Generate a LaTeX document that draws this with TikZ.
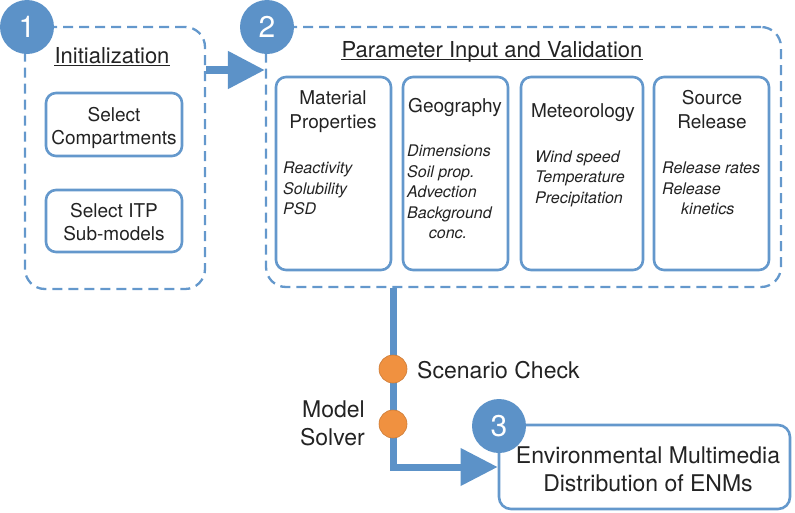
\documentclass[tikz,border=0pt]{standalone}
\usepackage{fontspec}
\setmainfont{TeX Gyre Heros}
\usetikzlibrary{arrows.meta}
\definecolor{lblue}{RGB}{100,152,204}
\definecolor{cblue}{RGB}{92,146,200}
\definecolor{dorange}{RGB}{240,145,64}
\definecolor{txt}{RGB}{35,35,35}
\begin{document}
\begin{tikzpicture}[x=1pt,y=-1pt,
  dashbox/.style={draw=lblue,line width=2.3pt,dash pattern=on 10pt off 6pt,rounded corners=20pt,inner sep=0pt},
  solidbox/.style={draw=lblue,line width=2.6pt,rounded corners=10pt,fill=white,inner sep=0pt},
  numcirc/.style={circle,fill=cblue,text=white,minimum size=54pt,inner sep=0pt,font=\fontsize{30}{30}\selectfont},
  dotc/.style={circle,fill=dorange,draw=dorange!85!black,line width=0.6pt,minimum size=28pt,inner sep=0pt},
  ttl/.style={inner sep=0pt,anchor=base,text=txt,font=\fontsize{22}{26}\selectfont},
  head/.style={inner sep=0pt,anchor=base,text=txt,font=\fontsize{19}{23}\selectfont},
  item/.style={inner sep=0pt,anchor=base west,text=txt,font=\fontsize{16}{20}\selectfont\itshape},
  lbl/.style={inner sep=0pt,text=txt,font=\fontsize{23}{28}\selectfont},
  flow/.style={draw=cblue,line width=8pt,-{Triangle[length=37pt,width=36pt]}},
  uline/.style={draw=txt,line width=0.8pt}
]
\useasboundingbox (0,0) rectangle (795,512);

% ---- Box 1 ----
\node[dashbox,minimum width=180pt,minimum height=262pt] (box1) at (115,158) {};
\node[ttl] (init) at (112,63) {Initialization};
\draw[uline] ([yshift=-2.5pt]init.base west) -- ([yshift=-2.5pt]init.base east);
\node[solidbox,minimum width=136pt,minimum height=63pt] (selc) at (114,124.5) {};
\node[head] at (114,121) {Select};
\node[head] at (114,144) {Compartments};
\node[solidbox,minimum width=136pt,minimum height=62pt] (seli) at (114,221) {};
\node[head] at (114,217) {Select ITP};
\node[head] at (114,240) {Sub-models};
\node[numcirc] (n1) at (27,27) {1};

% ---- Box 2 ----
\node[dashbox,minimum width=515pt,minimum height=260pt] (box2) at (523.5,157) {};
\node[ttl] (par) at (492,57) {Parameter Input and Validation};
\draw[uline] ([yshift=-2.5pt]par.base west) -- ([yshift=-2.5pt]par.base east);

\node[solidbox,minimum width=115pt,minimum height=193pt] (mat) at (333.5,173.5) {};
\node[head] at (333,104) {Material};
\node[head] at (333,128) {Properties};
\node[item] at (283,173) {Reactivity};
\node[item] at (283,194) {Solubility};
\node[item] at (283,214) {PSD};

\node[solidbox,minimum width=105pt,minimum height=193pt] (geo) at (455.5,173.5) {};
\node[head] at (455,112) {Geography};
\node[item] at (407,156) {Dimensions};
\node[item] at (407,177) {Soil prop.};
\node[item] at (407,197) {Advection};
\node[item] at (407,218) {Background};
\node[item,anchor=base] at (448,238) {conc.};

\node[solidbox,minimum width=122pt,minimum height=193pt] (met) at (582,173.5) {};
\node[head] at (583,117) {Meteorology};
\node[item] at (535,162) {Wind speed};
\node[item] at (535,182) {Temperature};
\node[item] at (535,203) {Precipitation};

\node[solidbox,minimum width=115pt,minimum height=193pt] (src) at (711.5,173.5) {};
\node[head] at (712,104) {Source};
\node[head] at (712,128) {Release};
\node[item] at (662,173) {Release rates};
\node[item] at (662,194) {Release};
\node[item] at (681,214) {kinetics};

\node[numcirc] (n2) at (267,27) {2};

% ---- Box 3 ----
\node[solidbox,rounded corners=12pt,minimum width=291pt,minimum height=84pt] (box3) at (644.5,467) {};
\node[lbl,anchor=base] at (648,463) {Environmental Multimedia};
\node[lbl,anchor=base] at (648,491) {Distribution of ENMs};

% ---- connectors ----
\coordinate (a1) at (0,70);
\draw[flow] (box1.east |- a1) -- (box2.west |- a1);
\coordinate (v) at (393,0);
\draw[flow,line width=7pt] (box2.south -| v) |- (box3.west);

\node[numcirc] (n3) at (499,426) {3};

\node[dotc] (sc) at (393,369) {};
\node[dotc] (ms) at (393,424) {};
\node[lbl,anchor=base west] at (417,378) {Scenario Check};
\node[lbl,anchor=base east] at (365,417) {Model};
\node[lbl,anchor=base east] at (365,445) {Solver};
\end{tikzpicture}
\end{document}
